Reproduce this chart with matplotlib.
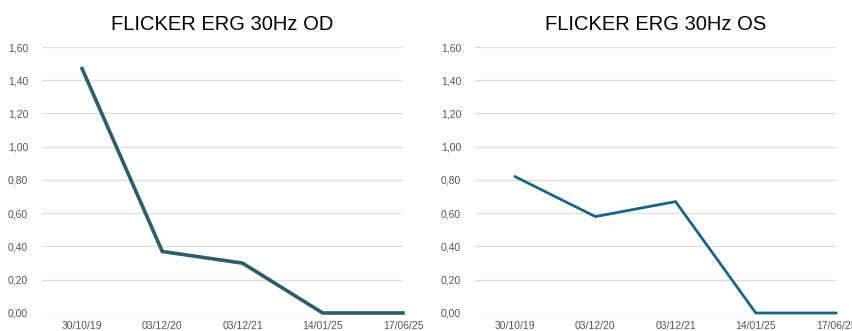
import matplotlib.pyplot as plt
from matplotlib.ticker import FuncFormatter

dates = ['30/10/19', '03/12/20', '03/12/21', '14/01/25', '17/06/25']
od_values = [1.47, 0.37, 0.30, 0.0, 0.0]
os_values = [0.82, 0.58, 0.67, 0.0, 0.0]

plt.rcParams['font.family'] = ['Liberation Sans', 'DejaVu Sans']

fig = plt.figure(figsize=(8.53, 3.31), dpi=100)
ax1 = fig.add_axes([0.0492, 0.0544, 0.4232, 0.8036])
ax2 = fig.add_axes([0.5569, 0.0544, 0.4232, 0.8036])


def comma_fmt(v, pos):
    return f'{v:.2f}'.replace('.', ',')


def style(ax, values, title, color, lw):
    x = range(len(dates))
    ax.plot(x, values, color=color, linewidth=lw, solid_joinstyle='miter')
    ax.set_xlim(-0.5, 4)
    ax.set_ylim(0, 1.6)
    ax.set_yticks([0, 0.2, 0.4, 0.6, 0.8, 1.0, 1.2, 1.4, 1.6])
    ax.yaxis.set_major_formatter(FuncFormatter(comma_fmt))
    ax.set_xticks(list(x))
    ax.set_xticklabels(dates)
    ax.grid(axis='y', color='#dedede', linewidth=0.9)
    ax.set_axisbelow(True)
    for s in ax.spines.values():
        s.set_visible(False)
    ax.tick_params(length=0, labelsize=7.5, colors='#555555', pad=6)
    ax.tick_params(axis='y', pad=10)
    ax.set_clip_on(False)
    ax.set_title(title, fontsize=14.5, pad=12, color='black')
    for line in ax.lines:
        line.set_clip_on(False)


style(ax1, od_values, 'FLICKER ERG 30Hz OD', '#2e5c6b', 2.6)
style(ax2, os_values, 'FLICKER ERG 30Hz OS', '#1b6482', 2.0)

fig.savefig('out.png', dpi=100)
